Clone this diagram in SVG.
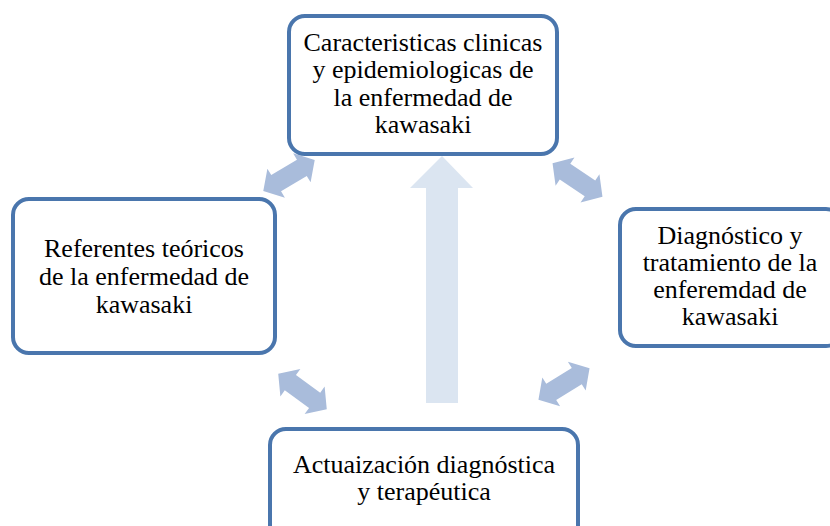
<svg xmlns="http://www.w3.org/2000/svg" width="830" height="526" viewBox="0 0 830 526">
<defs>
<style>
.box{fill:#ffffff;stroke:#4a76ad;stroke-width:4}
.t{font-family:"Liberation Serif","Times New Roman",serif;font-size:26px;fill:#000000;text-anchor:middle}
.da{fill:#a9bcdb}
.big{fill:#dbe5f1}
</style>
<path id="dbl" d="M-30,0 L-15,-17 L-15,-9.5 L15,-9.5 L15,-17 L30,0 L15,17 L15,9.5 L-15,9.5 L-15,17 Z"/>
</defs>
<rect width="830" height="526" fill="#ffffff"/>
<g id="connectors">
<polygon class="big" points="442,156 473,188 458,188 458,403 426,403 426,188 410,188"/>
<use href="#dbl" class="da" transform="translate(289,175.5) rotate(-31)"/>
<use href="#dbl" class="da" transform="translate(577.5,180) rotate(33.7)"/>
<use href="#dbl" class="da" transform="translate(302.5,391.5) rotate(36)"/>
<use href="#dbl" class="da" transform="translate(564,384) rotate(-31.6)"/>
</g>
<g id="node-top">
<rect class="box" x="289" y="16" width="268" height="138" rx="16"/>
<text class="t" x="423" y="50.5">Caracteristicas clinicas</text>
<text class="t" x="423" y="78">y epidemiologicas de</text>
<text class="t" x="423" y="105.5">la enfermedad de</text>
<text class="t" x="423" y="133">kawasaki</text>
</g>
<g id="node-left">
<rect class="box" x="13" y="199" width="262" height="154" rx="16"/>
<text class="t" x="144" y="257">Referentes teóricos</text>
<text class="t" x="144" y="285">de la enfermedad de</text>
<text class="t" x="144" y="313">kawasaki</text>
</g>
<g id="node-right">
<rect class="box" x="620" y="209" width="222" height="137" rx="16"/>
<text class="t" x="730" y="244">Diagnóstico y</text>
<text class="t" x="730" y="271">tratamiento de la</text>
<text class="t" x="730" y="298">enferemdad de</text>
<text class="t" x="730" y="325">kawasaki</text>
</g>
<g id="node-bottom">
<rect class="box" x="270" y="429" width="308" height="120" rx="16"/>
<text class="t" x="424" y="473">Actuaización diagnóstica</text>
<text class="t" x="424" y="500">y terapéutica</text>
</g>
</svg>
